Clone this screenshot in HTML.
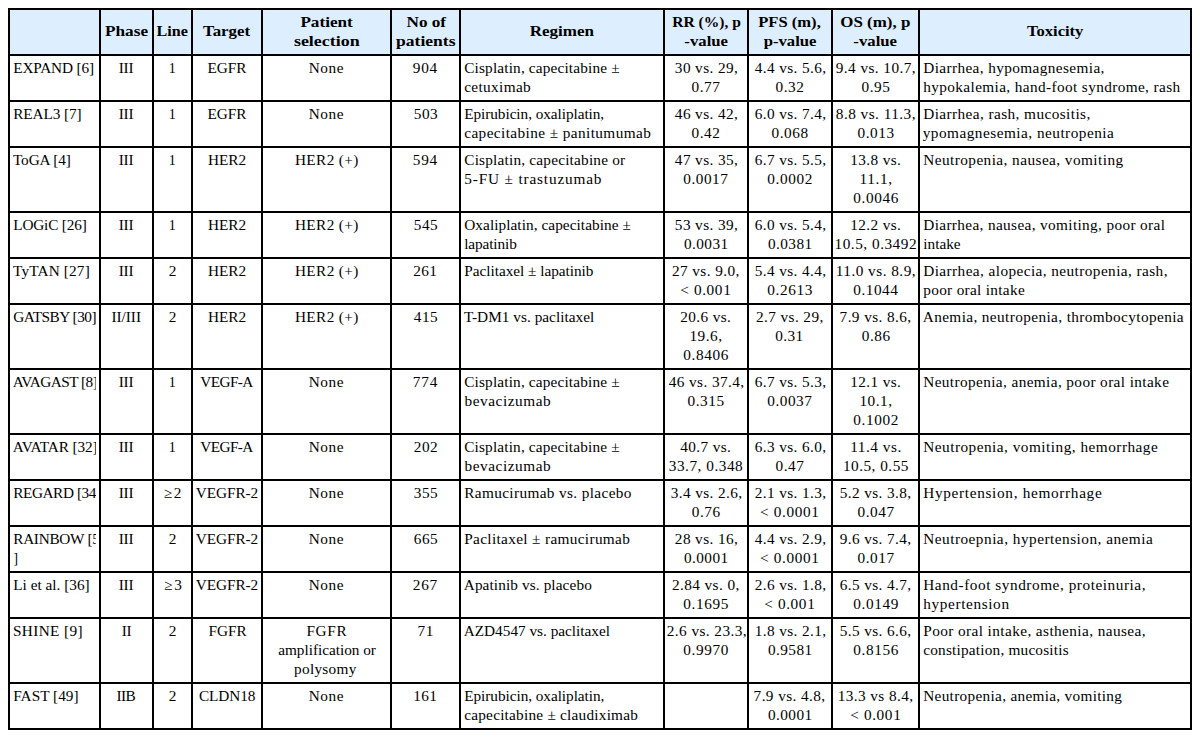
<!DOCTYPE html><html><head><meta charset="utf-8"><title>Table</title><style>html,body{margin:0;padding:0;background:#fff;width:1200px;height:738px;overflow:hidden}
.t{position:relative;width:1200px;height:738px;font-family:"Liberation Serif",serif;font-size:14.7px;line-height:19px;color:#000}
.ln{position:absolute;background:#000}
.c{position:absolute;box-sizing:border-box;padding:3px}
.w{white-space:nowrap;position:relative}
.clip{overflow:hidden}
.c.h{background:#ddeeff;font-weight:bold;text-align:center;display:flex;align-items:center}
.h>.w{width:100%}
.l{text-align:left} .ce{text-align:center}
.w span{display:inline-block;transform-origin:0 0}
</style></head><body><div class="t">
<div class="c h" style="left:10px;top:10px;width:89px;height:44px"><div class="w"></div></div>
<div class="c h" style="left:101px;top:10px;width:51px;height:44px"><div class="w" style="top:-1px"><div><span style="transform:translateX(-3.06px) scaleX(1.1736)">Phase</span></div></div></div>
<div class="c h" style="left:154px;top:10px;width:37px;height:44px"><div class="w" style="top:-1px"><div><span style="transform:translateX(-1.39px) scaleX(1.0982)">Line</span></div></div></div>
<div class="c h" style="left:193px;top:10px;width:68px;height:44px"><div class="w" style="top:-1px"><div><span style="transform:translateX(-3.04px) scaleX(1.1472)">Target</span></div></div></div>
<div class="c h" style="left:263px;top:10px;width:127px;height:44px"><div class="w"><div><span style="transform:translateX(-3.62px) scaleX(1.1685)">Patient</span></div><div><span style="transform:translateX(-6.08px) scaleX(1.2207)">selection</span></div></div></div>
<div class="c h" style="left:392px;top:10px;width:67px;height:44px"><div class="w"><div><span style="transform:translateX(-2.53px) scaleX(1.1704)">No of</span></div><div><span style="transform:translateX(-4.92px) scaleX(1.1929)">patients</span></div></div></div>
<div class="c h" style="left:461px;top:10px;width:202px;height:44px"><div class="w" style="top:-1px"><div><span style="transform:translateX(-4.34px) scaleX(1.1591)">Regimen</span></div></div></div>
<div class="c h" style="left:665px;top:10px;width:82px;height:44px"><div class="w"><div><span style="transform:translateX(-1.80px) scaleX(1.0586)">RR (%), p</span></div><div><span style="transform:translateX(-2.66px) scaleX(1.1400)">-value</span></div></div></div>
<div class="c h" style="left:749px;top:10px;width:82px;height:44px"><div class="w"><div><span style="transform:translateX(-3.80px) scaleX(1.1279)">PFS (m),</span></div><div><span style="transform:translateX(-3.34px) scaleX(1.1359)">p-value</span></div></div></div>
<div class="c h" style="left:833px;top:10px;width:85px;height:44px"><div class="w"><div><span style="transform:translateX(-4.68px) scaleX(1.1513)">OS (m), p</span></div><div><span style="transform:translateX(-2.66px) scaleX(1.1400)">-value</span></div></div></div>
<div class="c h" style="left:920px;top:10px;width:270px;height:44px"><div class="w" style="top:-1px"><div><span style="transform:translateX(-2.98px) scaleX(1.1256)">Toxicity</span></div></div></div>
<div class="c l" style="left:10px;top:56px;width:89px;height:44px"><div class="w clip" style="height:38px"><div><span style="letter-spacing:-0.144px;transform:translateX(0.23px) scaleX(1.0400)">EXPAND [6]</span></div></div></div>
<div class="c ce" style="left:101px;top:56px;width:51px;height:44px"><div class="w" style="height:38px"><div><span style="letter-spacing:-0.144px;transform:translateX(-0.35px) scaleX(1.0400)">III</span></div></div></div>
<div class="c ce" style="left:154px;top:56px;width:37px;height:44px"><div class="w" style="height:38px"><div><span style="transform:translateX(-0.16px) scaleX(0.9524)">1</span></div></div></div>
<div class="c ce" style="left:193px;top:56px;width:68px;height:44px"><div class="w" style="height:38px"><div><span style="letter-spacing:-0.074px;transform:translateX(-0.49px) scaleX(1.0400)">EGFR</span></div></div></div>
<div class="c ce" style="left:263px;top:56px;width:127px;height:44px"><div class="w" style="height:38px"><div><span style="letter-spacing:0.567px;transform:translateX(-0.36px) scaleX(1.0400)">None</span></div></div></div>
<div class="c ce" style="left:392px;top:56px;width:67px;height:44px"><div class="w" style="height:38px"><div><span style="letter-spacing:0.673px;transform:translateX(-0.16px) scaleX(1.0400)">904</span></div></div></div>
<div class="c l" style="left:461px;top:56px;width:202px;height:44px"><div class="w" style="height:38px"><div><span style="letter-spacing:0.159px;transform:translateX(0.23px) scaleX(1.0400)">Cisplatin, capecitabine ±</span></div><div><span style="letter-spacing:0.343px;transform:translateX(0.23px) scaleX(1.0400)">cetuximab</span></div></div></div>
<div class="c ce" style="left:665px;top:56px;width:82px;height:44px"><div class="w" style="height:38px"><div><span style="letter-spacing:0.377px;transform:translateX(-1.15px) scaleX(1.0400)">30 vs. 29,</span></div><div><span style="letter-spacing:0.484px;transform:translateX(-0.43px) scaleX(1.0400)">0.77</span></div></div></div>
<div class="c ce" style="left:749px;top:56px;width:82px;height:44px"><div class="w" style="height:38px"><div><span style="letter-spacing:0.369px;transform:translateX(-1.27px) scaleX(1.0400)">4.4 vs. 5.6,</span></div><div><span style="letter-spacing:0.487px;transform:translateX(-0.42px) scaleX(1.0400)">0.32</span></div></div></div>
<div class="c ce" style="left:833px;top:56px;width:85px;height:44px"><div class="w" style="height:38px"><div><span style="letter-spacing:0.416px;transform:translateX(-1.25px) scaleX(1.0400)">9.4 vs. 10.7,</span></div><div><span style="letter-spacing:0.484px;transform:translateX(-0.43px) scaleX(1.0400)">0.95</span></div></div></div>
<div class="c l" style="left:920px;top:56px;width:270px;height:44px"><div class="w" style="height:38px"><div><span style="letter-spacing:0.375px;transform:translateX(0.23px) scaleX(1.0400)">Diarrhea, hypomagnesemia,</span></div><div><span style="letter-spacing:0.369px;transform:translateX(0.24px) scaleX(1.0400)">hypokalemia, hand-foot syndrome, rash</span></div></div></div>
<div class="c l" style="left:10px;top:102px;width:89px;height:44px"><div class="w clip" style="height:38px"><div><span style="letter-spacing:-0.090px;transform:translateX(0.23px) scaleX(1.0400)">REAL3 [7]</span></div></div></div>
<div class="c ce" style="left:101px;top:102px;width:51px;height:44px"><div class="w" style="height:38px"><div><span style="letter-spacing:-0.144px;transform:translateX(-0.35px) scaleX(1.0400)">III</span></div></div></div>
<div class="c ce" style="left:154px;top:102px;width:37px;height:44px"><div class="w" style="height:38px"><div><span style="transform:translateX(-0.16px) scaleX(0.9524)">1</span></div></div></div>
<div class="c ce" style="left:193px;top:102px;width:68px;height:44px"><div class="w" style="height:38px"><div><span style="letter-spacing:-0.074px;transform:translateX(-0.49px) scaleX(1.0400)">EGFR</span></div></div></div>
<div class="c ce" style="left:263px;top:102px;width:127px;height:44px"><div class="w" style="height:38px"><div><span style="letter-spacing:0.567px;transform:translateX(-0.36px) scaleX(1.0400)">None</span></div></div></div>
<div class="c ce" style="left:392px;top:102px;width:67px;height:44px"><div class="w" style="height:38px"><div><span style="letter-spacing:0.562px;transform:translateX(-0.33px) scaleX(1.0400)">503</span></div></div></div>
<div class="c l" style="left:461px;top:102px;width:202px;height:44px"><div class="w" style="height:38px"><div><span style="letter-spacing:-0.056px;transform:translateX(0.23px) scaleX(1.0400)">Epirubicin, oxaliplatin,</span></div><div><span style="letter-spacing:0.393px;transform:translateX(0.23px) scaleX(1.0400)">capecitabine ± panitumumab</span></div></div></div>
<div class="c ce" style="left:665px;top:102px;width:82px;height:44px"><div class="w" style="height:38px"><div><span style="letter-spacing:0.375px;transform:translateX(-1.14px) scaleX(1.0400)">46 vs. 42,</span></div><div><span style="letter-spacing:0.487px;transform:translateX(-0.42px) scaleX(1.0400)">0.42</span></div></div></div>
<div class="c ce" style="left:749px;top:102px;width:82px;height:44px"><div class="w" style="height:38px"><div><span style="letter-spacing:0.371px;transform:translateX(-1.27px) scaleX(1.0400)">6.0 vs. 7.4,</span></div><div><span style="letter-spacing:0.534px;transform:translateX(-0.52px) scaleX(1.0400)">0.068</span></div></div></div>
<div class="c ce" style="left:833px;top:102px;width:85px;height:44px"><div class="w" style="height:38px"><div><span style="letter-spacing:0.438px;transform:translateX(-1.13px) scaleX(1.0400)">8.8 vs. 11.3,</span></div><div><span style="letter-spacing:0.534px;transform:translateX(-0.52px) scaleX(1.0400)">0.013</span></div></div></div>
<div class="c l" style="left:920px;top:102px;width:270px;height:44px"><div class="w" style="height:38px"><div><span style="letter-spacing:0.403px;transform:translateX(0.23px) scaleX(1.0400)">Diarrhea, rash, mucositis,</span></div><div><span style="letter-spacing:0.465px;transform:translateX(-0.26px) scaleX(1.0400)">ypomagnesemia, neutropenia</span></div></div></div>
<div class="c l" style="left:10px;top:148px;width:89px;height:63px"><div class="w clip" style="height:57px"><div><span style="letter-spacing:-0.125px;transform:translateX(-0.01px) scaleX(1.0400)">ToGA [4]</span></div></div></div>
<div class="c ce" style="left:101px;top:148px;width:51px;height:63px"><div class="w" style="height:57px"><div><span style="letter-spacing:-0.144px;transform:translateX(-0.35px) scaleX(1.0400)">III</span></div></div></div>
<div class="c ce" style="left:154px;top:148px;width:37px;height:63px"><div class="w" style="height:57px"><div><span style="transform:translateX(-0.16px) scaleX(0.9524)">1</span></div></div></div>
<div class="c ce" style="left:193px;top:148px;width:68px;height:63px"><div class="w" style="height:57px"><div><span style="letter-spacing:-0.054px;transform:translateX(-0.96px) scaleX(1.0400)">HER2</span></div></div></div>
<div class="c ce" style="left:263px;top:148px;width:127px;height:63px"><div class="w" style="height:57px"><div><span style="letter-spacing:0.372px;transform:translateX(-1.08px) scaleX(1.0400)">HER2 (+)</span></div></div></div>
<div class="c ce" style="left:392px;top:148px;width:67px;height:63px"><div class="w" style="height:57px"><div><span style="letter-spacing:0.678px;transform:translateX(-0.16px) scaleX(1.0400)">594</span></div></div></div>
<div class="c l" style="left:461px;top:148px;width:202px;height:63px"><div class="w" style="height:57px"><div><span style="letter-spacing:0.203px;transform:translateX(0.23px) scaleX(1.0400)">Cisplatin, capecitabine or</span></div><div><span style="letter-spacing:0.810px;transform:translateX(0.22px) scaleX(1.0400)">5-FU ± trastuzumab</span></div></div></div>
<div class="c ce" style="left:665px;top:148px;width:82px;height:63px"><div class="w" style="height:57px"><div><span style="letter-spacing:0.375px;transform:translateX(-1.14px) scaleX(1.0400)">47 vs. 35,</span></div><div><span style="letter-spacing:0.513px;transform:translateX(-0.78px) scaleX(1.0400)">0.0017</span></div></div></div>
<div class="c ce" style="left:749px;top:148px;width:82px;height:63px"><div class="w" style="height:57px"><div><span style="letter-spacing:0.371px;transform:translateX(-1.27px) scaleX(1.0400)">6.7 vs. 5.5,</span></div><div><span style="letter-spacing:0.565px;transform:translateX(-0.63px) scaleX(1.0400)">0.0002</span></div></div></div>
<div class="c ce" style="left:833px;top:148px;width:85px;height:63px"><div class="w" style="height:57px"><div><span style="letter-spacing:0.376px;transform:translateX(-0.86px) scaleX(1.0400)">13.8 vs.</span></div><div><span style="letter-spacing:0.584px;transform:translateX(-0.46px) scaleX(1.0400)">11.1,</span></div><div><span style="letter-spacing:0.562px;transform:translateX(-0.64px) scaleX(1.0400)">0.0046</span></div></div></div>
<div class="c l" style="left:920px;top:148px;width:270px;height:63px"><div class="w" style="height:57px"><div><span style="letter-spacing:0.425px;transform:translateX(0.23px) scaleX(1.0400)">Neutropenia, nausea, vomiting</span></div></div></div>
<div class="c l" style="left:10px;top:213px;width:89px;height:44px"><div class="w clip" style="height:38px"><div><span style="letter-spacing:-0.168px;transform:translateX(0.23px) scaleX(1.0400)">LOGiC [26]</span></div></div></div>
<div class="c ce" style="left:101px;top:213px;width:51px;height:44px"><div class="w" style="height:38px"><div><span style="letter-spacing:-0.144px;transform:translateX(-0.35px) scaleX(1.0400)">III</span></div></div></div>
<div class="c ce" style="left:154px;top:213px;width:37px;height:44px"><div class="w" style="height:38px"><div><span style="transform:translateX(-0.16px) scaleX(0.9524)">1</span></div></div></div>
<div class="c ce" style="left:193px;top:213px;width:68px;height:44px"><div class="w" style="height:38px"><div><span style="letter-spacing:-0.054px;transform:translateX(-0.96px) scaleX(1.0400)">HER2</span></div></div></div>
<div class="c ce" style="left:263px;top:213px;width:127px;height:44px"><div class="w" style="height:38px"><div><span style="letter-spacing:0.372px;transform:translateX(-1.08px) scaleX(1.0400)">HER2 (+)</span></div></div></div>
<div class="c ce" style="left:392px;top:213px;width:67px;height:44px"><div class="w" style="height:38px"><div><span style="letter-spacing:0.562px;transform:translateX(-0.33px) scaleX(1.0400)">545</span></div></div></div>
<div class="c l" style="left:461px;top:213px;width:202px;height:44px"><div class="w" style="height:38px"><div><span style="letter-spacing:0.065px;transform:translateX(0.23px) scaleX(1.0400)">Oxaliplatin, capecitabine ±</span></div><div><span style="letter-spacing:-0.111px;transform:translateX(0.24px) scaleX(1.0400)">lapatinib</span></div></div></div>
<div class="c ce" style="left:665px;top:213px;width:82px;height:44px"><div class="w" style="height:38px"><div><span style="letter-spacing:0.377px;transform:translateX(-1.15px) scaleX(1.0400)">53 vs. 39,</span></div><div><span style="letter-spacing:0.421px;transform:translateX(-1.06px) scaleX(1.0400)">0.0031</span></div></div></div>
<div class="c ce" style="left:749px;top:213px;width:82px;height:44px"><div class="w" style="height:38px"><div><span style="letter-spacing:0.371px;transform:translateX(-1.27px) scaleX(1.0400)">6.0 vs. 5.4,</span></div><div><span style="letter-spacing:0.421px;transform:translateX(-1.06px) scaleX(1.0400)">0.0381</span></div></div></div>
<div class="c ce" style="left:833px;top:213px;width:85px;height:44px"><div class="w" style="height:38px"><div><span style="letter-spacing:0.376px;transform:translateX(-0.86px) scaleX(1.0400)">12.2 vs.</span></div><div><span style="letter-spacing:0.493px;transform:translateX(-1.47px) scaleX(1.0400)">10.5, 0.3492</span></div></div></div>
<div class="c l" style="left:920px;top:213px;width:270px;height:44px"><div class="w" style="height:38px"><div><span style="letter-spacing:0.350px;transform:translateX(0.23px) scaleX(1.0400)">Diarrhea, nausea, vomiting, poor oral</span></div><div><span style="letter-spacing:0.008px;transform:translateX(0.24px) scaleX(1.0400)">intake</span></div></div></div>
<div class="c l" style="left:10px;top:259px;width:89px;height:44px"><div class="w clip" style="height:38px"><div><span style="letter-spacing:0.151px;transform:translateX(-0.01px) scaleX(1.0400)">TyTAN [27]</span></div></div></div>
<div class="c ce" style="left:101px;top:259px;width:51px;height:44px"><div class="w" style="height:38px"><div><span style="letter-spacing:-0.144px;transform:translateX(-0.35px) scaleX(1.0400)">III</span></div></div></div>
<div class="c ce" style="left:154px;top:259px;width:37px;height:44px"><div class="w" style="height:38px"><div><span style="transform:translateX(-0.25px) scaleX(1.0435)">2</span></div></div></div>
<div class="c ce" style="left:193px;top:259px;width:68px;height:44px"><div class="w" style="height:38px"><div><span style="letter-spacing:-0.054px;transform:translateX(-0.96px) scaleX(1.0400)">HER2</span></div></div></div>
<div class="c ce" style="left:263px;top:259px;width:127px;height:44px"><div class="w" style="height:38px"><div><span style="letter-spacing:0.372px;transform:translateX(-1.08px) scaleX(1.0400)">HER2 (+)</span></div></div></div>
<div class="c ce" style="left:392px;top:259px;width:67px;height:44px"><div class="w" style="height:38px"><div><span style="letter-spacing:0.327px;transform:translateX(-0.69px) scaleX(1.0400)">261</span></div></div></div>
<div class="c l" style="left:461px;top:259px;width:202px;height:44px"><div class="w" style="height:38px"><div><span style="letter-spacing:-0.021px;transform:translateX(0.23px) scaleX(1.0400)">Paclitaxel ± lapatinib</span></div></div></div>
<div class="c ce" style="left:665px;top:259px;width:82px;height:44px"><div class="w" style="height:38px"><div><span style="letter-spacing:0.398px;transform:translateX(-1.07px) scaleX(1.0400)">27 vs. 9.0,</span></div><div><span style="letter-spacing:0.603px;transform:translateX(-0.79px) scaleX(1.0400)">&lt; 0.001</span></div></div></div>
<div class="c ce" style="left:749px;top:259px;width:82px;height:44px"><div class="w" style="height:38px"><div><span style="letter-spacing:0.371px;transform:translateX(-1.27px) scaleX(1.0400)">5.4 vs. 4.4,</span></div><div><span style="letter-spacing:0.563px;transform:translateX(-0.63px) scaleX(1.0400)">0.2613</span></div></div></div>
<div class="c ce" style="left:833px;top:259px;width:85px;height:44px"><div class="w" style="height:38px"><div><span style="letter-spacing:0.460px;transform:translateX(-1.26px) scaleX(1.0400)">11.0 vs. 8.9,</span></div><div><span style="letter-spacing:0.512px;transform:translateX(-0.79px) scaleX(1.0400)">0.1044</span></div></div></div>
<div class="c l" style="left:920px;top:259px;width:270px;height:44px"><div class="w" style="height:38px"><div><span style="letter-spacing:0.407px;transform:translateX(0.23px) scaleX(1.0400)">Diarrhea, alopecia, neutropenia, rash,</span></div><div><span style="letter-spacing:0.305px;transform:translateX(0.24px) scaleX(1.0400)">poor oral intake</span></div></div></div>
<div class="c l" style="left:10px;top:305px;width:89px;height:63px"><div class="w clip" style="height:57px"><div><span style="letter-spacing:-0.459px;transform:translateX(0.23px) scaleX(1.0400)">GATSBY [30]</span></div></div></div>
<div class="c ce" style="left:101px;top:305px;width:51px;height:63px"><div class="w" style="height:57px"><div><span style="letter-spacing:-0.019px;transform:translateX(-0.59px) scaleX(1.0400)">II/III</span></div></div></div>
<div class="c ce" style="left:154px;top:305px;width:37px;height:63px"><div class="w" style="height:57px"><div><span style="transform:translateX(-0.25px) scaleX(1.0435)">2</span></div></div></div>
<div class="c ce" style="left:193px;top:305px;width:68px;height:63px"><div class="w" style="height:57px"><div><span style="letter-spacing:-0.054px;transform:translateX(-0.96px) scaleX(1.0400)">HER2</span></div></div></div>
<div class="c ce" style="left:263px;top:305px;width:127px;height:63px"><div class="w" style="height:57px"><div><span style="letter-spacing:0.372px;transform:translateX(-1.08px) scaleX(1.0400)">HER2 (+)</span></div></div></div>
<div class="c ce" style="left:392px;top:305px;width:67px;height:63px"><div class="w" style="height:57px"><div><span style="letter-spacing:0.553px;transform:translateX(-0.33px) scaleX(1.0400)">415</span></div></div></div>
<div class="c l" style="left:461px;top:305px;width:202px;height:63px"><div class="w" style="height:57px"><div><span style="letter-spacing:0.032px;transform:translateX(-0.01px) scaleX(1.0400)">T-DM1 vs. paclitaxel</span></div></div></div>
<div class="c ce" style="left:665px;top:305px;width:82px;height:63px"><div class="w" style="height:57px"><div><span style="letter-spacing:0.374px;transform:translateX(-0.85px) scaleX(1.0400)">20.6 vs.</span></div><div><span style="letter-spacing:0.459px;transform:translateX(-0.50px) scaleX(1.0400)">19.6,</span></div><div><span style="letter-spacing:0.562px;transform:translateX(-0.64px) scaleX(1.0400)">0.8406</span></div></div></div>
<div class="c ce" style="left:749px;top:305px;width:82px;height:63px"><div class="w" style="height:57px"><div><span style="letter-spacing:0.398px;transform:translateX(-1.07px) scaleX(1.0400)">2.7 vs. 29,</span></div><div><span style="letter-spacing:0.330px;transform:translateX(-0.73px) scaleX(1.0400)">0.31</span></div></div></div>
<div class="c ce" style="left:833px;top:305px;width:85px;height:63px"><div class="w" style="height:57px"><div><span style="letter-spacing:0.393px;transform:translateX(-1.40px) scaleX(1.0400)">7.9 vs. 8.6,</span></div><div><span style="letter-spacing:0.564px;transform:translateX(-0.27px) scaleX(1.0400)">0.86</span></div></div></div>
<div class="c l" style="left:920px;top:305px;width:270px;height:63px"><div class="w" style="height:57px"><div><span style="letter-spacing:0.374px;transform:translateX(-0.26px) scaleX(1.0400)">Anemia, neutropenia, thrombocytopenia</span></div></div></div>
<div class="c l" style="left:10px;top:370px;width:89px;height:63px"><div class="w clip" style="height:57px"><div><span style="letter-spacing:-0.521px;transform:translateX(-0.26px) scaleX(1.0400)">AVAGAST [8]</span></div></div></div>
<div class="c ce" style="left:101px;top:370px;width:51px;height:63px"><div class="w" style="height:57px"><div><span style="letter-spacing:-0.144px;transform:translateX(-0.35px) scaleX(1.0400)">III</span></div></div></div>
<div class="c ce" style="left:154px;top:370px;width:37px;height:63px"><div class="w" style="height:57px"><div><span style="transform:translateX(-0.16px) scaleX(0.9524)">1</span></div></div></div>
<div class="c ce" style="left:193px;top:370px;width:68px;height:63px"><div class="w" style="height:57px"><div><span style="letter-spacing:-0.546px;transform:translateX(-1.77px) scaleX(1.0400)">VEGF-A</span></div></div></div>
<div class="c ce" style="left:263px;top:370px;width:127px;height:63px"><div class="w" style="height:57px"><div><span style="letter-spacing:0.567px;transform:translateX(-0.36px) scaleX(1.0400)">None</span></div></div></div>
<div class="c ce" style="left:392px;top:370px;width:67px;height:63px"><div class="w" style="height:57px"><div><span style="letter-spacing:0.803px;transform:translateX(-0.23px) scaleX(1.0400)">774</span></div></div></div>
<div class="c l" style="left:461px;top:370px;width:202px;height:63px"><div class="w" style="height:57px"><div><span style="letter-spacing:0.159px;transform:translateX(0.23px) scaleX(1.0400)">Cisplatin, capecitabine ±</span></div><div><span style="letter-spacing:0.531px;transform:translateX(0.50px) scaleX(1.0400)">bevacizumab</span></div></div></div>
<div class="c ce" style="left:665px;top:370px;width:82px;height:63px"><div class="w" style="height:57px"><div><span style="letter-spacing:0.399px;transform:translateX(-1.32px) scaleX(1.0400)">46 vs. 37.4,</span></div><div><span style="letter-spacing:0.534px;transform:translateX(-0.52px) scaleX(1.0400)">0.315</span></div></div></div>
<div class="c ce" style="left:749px;top:370px;width:82px;height:63px"><div class="w" style="height:57px"><div><span style="letter-spacing:0.371px;transform:translateX(-1.27px) scaleX(1.0400)">6.7 vs. 5.3,</span></div><div><span style="letter-spacing:0.513px;transform:translateX(-0.78px) scaleX(1.0400)">0.0037</span></div></div></div>
<div class="c ce" style="left:833px;top:370px;width:85px;height:63px"><div class="w" style="height:57px"><div><span style="letter-spacing:0.376px;transform:translateX(-0.86px) scaleX(1.0400)">12.1 vs.</span></div><div><span style="letter-spacing:0.459px;transform:translateX(-0.50px) scaleX(1.0400)">10.1,</span></div><div><span style="letter-spacing:0.565px;transform:translateX(-0.63px) scaleX(1.0400)">0.1002</span></div></div></div>
<div class="c l" style="left:920px;top:370px;width:270px;height:63px"><div class="w" style="height:57px"><div><span style="letter-spacing:0.377px;transform:translateX(0.23px) scaleX(1.0400)">Neutropenia, anemia, poor oral intake</span></div></div></div>
<div class="c l" style="left:10px;top:435px;width:89px;height:44px"><div class="w clip" style="height:38px"><div><span style="letter-spacing:-0.121px;transform:translateX(-0.26px) scaleX(1.0400)">AVATAR [32]</span></div></div></div>
<div class="c ce" style="left:101px;top:435px;width:51px;height:44px"><div class="w" style="height:38px"><div><span style="letter-spacing:-0.144px;transform:translateX(-0.35px) scaleX(1.0400)">III</span></div></div></div>
<div class="c ce" style="left:154px;top:435px;width:37px;height:44px"><div class="w" style="height:38px"><div><span style="transform:translateX(-0.16px) scaleX(0.9524)">1</span></div></div></div>
<div class="c ce" style="left:193px;top:435px;width:68px;height:44px"><div class="w" style="height:38px"><div><span style="letter-spacing:-0.546px;transform:translateX(-1.77px) scaleX(1.0400)">VEGF-A</span></div></div></div>
<div class="c ce" style="left:263px;top:435px;width:127px;height:44px"><div class="w" style="height:38px"><div><span style="letter-spacing:0.567px;transform:translateX(-0.36px) scaleX(1.0400)">None</span></div></div></div>
<div class="c ce" style="left:392px;top:435px;width:67px;height:44px"><div class="w" style="height:38px"><div><span style="letter-spacing:0.567px;transform:translateX(-0.33px) scaleX(1.0400)">202</span></div></div></div>
<div class="c l" style="left:461px;top:435px;width:202px;height:44px"><div class="w" style="height:38px"><div><span style="letter-spacing:0.159px;transform:translateX(0.23px) scaleX(1.0400)">Cisplatin, capecitabine ±</span></div><div><span style="letter-spacing:0.531px;transform:translateX(0.50px) scaleX(1.0400)">bevacizumab</span></div></div></div>
<div class="c ce" style="left:665px;top:435px;width:82px;height:44px"><div class="w" style="height:38px"><div><span style="letter-spacing:0.371px;transform:translateX(-0.84px) scaleX(1.0400)">40.7 vs.</span></div><div><span style="letter-spacing:0.496px;transform:translateX(-1.22px) scaleX(1.0400)">33.7, 0.348</span></div></div></div>
<div class="c ce" style="left:749px;top:435px;width:82px;height:44px"><div class="w" style="height:38px"><div><span style="letter-spacing:0.371px;transform:translateX(-1.27px) scaleX(1.0400)">6.3 vs. 6.0,</span></div><div><span style="letter-spacing:0.484px;transform:translateX(-0.43px) scaleX(1.0400)">0.47</span></div></div></div>
<div class="c ce" style="left:833px;top:435px;width:85px;height:44px"><div class="w" style="height:38px"><div><span style="letter-spacing:0.484px;transform:translateX(-0.70px) scaleX(1.0400)">11.4 vs.</span></div><div><span style="letter-spacing:0.478px;transform:translateX(-1.12px) scaleX(1.0400)">10.5, 0.55</span></div></div></div>
<div class="c l" style="left:920px;top:435px;width:270px;height:44px"><div class="w" style="height:38px"><div><span style="letter-spacing:0.471px;transform:translateX(0.23px) scaleX(1.0400)">Neutropenia, vomiting, hemorrhage</span></div></div></div>
<div class="c l" style="left:10px;top:481px;width:89px;height:44px"><div class="w clip" style="height:38px"><div><span style="letter-spacing:-0.407px;transform:translateX(0.23px) scaleX(1.0400)">REGARD [34]</span></div></div></div>
<div class="c ce" style="left:101px;top:481px;width:51px;height:44px"><div class="w" style="height:38px"><div><span style="letter-spacing:-0.144px;transform:translateX(-0.35px) scaleX(1.0400)">III</span></div></div></div>
<div class="c ce" style="left:154px;top:481px;width:37px;height:44px"><div class="w" style="height:38px"><div><span style="letter-spacing:1.625px;transform:translateX(0.72px) scaleX(1.0400)">≥2</span></div></div></div>
<div class="c ce" style="left:193px;top:481px;width:68px;height:44px"><div class="w" style="height:38px"><div><span style="letter-spacing:-0.067px;transform:translateX(-1.20px) scaleX(1.0400)">VEGFR-2</span></div></div></div>
<div class="c ce" style="left:263px;top:481px;width:127px;height:44px"><div class="w" style="height:38px"><div><span style="letter-spacing:0.567px;transform:translateX(-0.36px) scaleX(1.0400)">None</span></div></div></div>
<div class="c ce" style="left:392px;top:481px;width:67px;height:44px"><div class="w" style="height:38px"><div><span style="letter-spacing:0.562px;transform:translateX(-0.33px) scaleX(1.0400)">355</span></div></div></div>
<div class="c l" style="left:461px;top:481px;width:202px;height:44px"><div class="w" style="height:38px"><div><span style="letter-spacing:0.357px;transform:translateX(0.23px) scaleX(1.0400)">Ramucirumab vs. placebo</span></div></div></div>
<div class="c ce" style="left:665px;top:481px;width:82px;height:44px"><div class="w" style="height:38px"><div><span style="letter-spacing:0.371px;transform:translateX(-1.27px) scaleX(1.0400)">3.4 vs. 2.6,</span></div><div><span style="letter-spacing:0.564px;transform:translateX(-0.27px) scaleX(1.0400)">0.76</span></div></div></div>
<div class="c ce" style="left:749px;top:481px;width:82px;height:44px"><div class="w" style="height:38px"><div><span style="letter-spacing:0.371px;transform:translateX(-1.27px) scaleX(1.0400)">2.1 vs. 1.3,</span></div><div><span style="letter-spacing:0.614px;transform:translateX(-0.90px) scaleX(1.0400)">&lt; 0.0001</span></div></div></div>
<div class="c ce" style="left:833px;top:481px;width:85px;height:44px"><div class="w" style="height:38px"><div><span style="letter-spacing:0.371px;transform:translateX(-1.27px) scaleX(1.0400)">5.2 vs. 3.8,</span></div><div><span style="letter-spacing:0.534px;transform:translateX(-0.52px) scaleX(1.0400)">0.047</span></div></div></div>
<div class="c l" style="left:920px;top:481px;width:270px;height:44px"><div class="w" style="height:38px"><div><span style="letter-spacing:0.651px;transform:translateX(0.23px) scaleX(1.0400)">Hypertension, hemorrhage</span></div></div></div>
<div class="c l" style="left:10px;top:527px;width:89px;height:44px"><div class="w clip" style="height:38px"><div><span style="letter-spacing:-0.277px;transform:translateX(0.23px) scaleX(1.0400)">RAINBOW [5</span></div><div><span style="transform:translateX(0.54px) scaleX(0.9231)">]</span></div></div></div>
<div class="c ce" style="left:101px;top:527px;width:51px;height:44px"><div class="w" style="height:38px"><div><span style="letter-spacing:-0.144px;transform:translateX(-0.35px) scaleX(1.0400)">III</span></div></div></div>
<div class="c ce" style="left:154px;top:527px;width:37px;height:44px"><div class="w" style="height:38px"><div><span style="transform:translateX(-0.25px) scaleX(1.0435)">2</span></div></div></div>
<div class="c ce" style="left:193px;top:527px;width:68px;height:44px"><div class="w" style="height:38px"><div><span style="letter-spacing:-0.067px;transform:translateX(-1.20px) scaleX(1.0400)">VEGFR-2</span></div></div></div>
<div class="c ce" style="left:263px;top:527px;width:127px;height:44px"><div class="w" style="height:38px"><div><span style="letter-spacing:0.567px;transform:translateX(-0.36px) scaleX(1.0400)">None</span></div></div></div>
<div class="c ce" style="left:392px;top:527px;width:67px;height:44px"><div class="w" style="height:38px"><div><span style="letter-spacing:0.562px;transform:translateX(-0.33px) scaleX(1.0400)">665</span></div></div></div>
<div class="c l" style="left:461px;top:527px;width:202px;height:44px"><div class="w" style="height:38px"><div><span style="letter-spacing:0.332px;transform:translateX(0.23px) scaleX(1.0400)">Paclitaxel ± ramucirumab</span></div></div></div>
<div class="c ce" style="left:665px;top:527px;width:82px;height:44px"><div class="w" style="height:38px"><div><span style="letter-spacing:0.377px;transform:translateX(-1.15px) scaleX(1.0400)">28 vs. 16,</span></div><div><span style="letter-spacing:0.421px;transform:translateX(-1.06px) scaleX(1.0400)">0.0001</span></div></div></div>
<div class="c ce" style="left:749px;top:527px;width:82px;height:44px"><div class="w" style="height:38px"><div><span style="letter-spacing:0.369px;transform:translateX(-1.27px) scaleX(1.0400)">4.4 vs. 2.9,</span></div><div><span style="letter-spacing:0.614px;transform:translateX(-0.90px) scaleX(1.0400)">&lt; 0.0001</span></div></div></div>
<div class="c ce" style="left:833px;top:527px;width:85px;height:44px"><div class="w" style="height:38px"><div><span style="letter-spacing:0.370px;transform:translateX(-1.27px) scaleX(1.0400)">9.6 vs. 7.4,</span></div><div><span style="letter-spacing:0.534px;transform:translateX(-0.52px) scaleX(1.0400)">0.017</span></div></div></div>
<div class="c l" style="left:920px;top:527px;width:270px;height:44px"><div class="w" style="height:38px"><div><span style="letter-spacing:0.473px;transform:translateX(0.23px) scaleX(1.0400)">Neutroepnia, hypertension, anemia</span></div></div></div>
<div class="c l" style="left:10px;top:573px;width:89px;height:44px"><div class="w clip" style="height:38px"><div><span style="letter-spacing:0.010px;transform:translateX(0.23px) scaleX(1.0400)">Li et al. [36]</span></div></div></div>
<div class="c ce" style="left:101px;top:573px;width:51px;height:44px"><div class="w" style="height:38px"><div><span style="letter-spacing:-0.144px;transform:translateX(-0.35px) scaleX(1.0400)">III</span></div></div></div>
<div class="c ce" style="left:154px;top:573px;width:37px;height:44px"><div class="w" style="height:38px"><div><span style="letter-spacing:1.856px;transform:translateX(0.95px) scaleX(1.0400)">≥3</span></div></div></div>
<div class="c ce" style="left:193px;top:573px;width:68px;height:44px"><div class="w" style="height:38px"><div><span style="letter-spacing:-0.067px;transform:translateX(-1.20px) scaleX(1.0400)">VEGFR-2</span></div></div></div>
<div class="c ce" style="left:263px;top:573px;width:127px;height:44px"><div class="w" style="height:38px"><div><span style="letter-spacing:0.567px;transform:translateX(-0.36px) scaleX(1.0400)">None</span></div></div></div>
<div class="c ce" style="left:392px;top:573px;width:67px;height:44px"><div class="w" style="height:38px"><div><span style="letter-spacing:0.683px;transform:translateX(-0.15px) scaleX(1.0400)">267</span></div></div></div>
<div class="c l" style="left:461px;top:573px;width:202px;height:44px"><div class="w" style="height:38px"><div><span style="letter-spacing:0.103px;transform:translateX(-0.26px) scaleX(1.0400)">Apatinib vs. placebo</span></div></div></div>
<div class="c ce" style="left:665px;top:573px;width:82px;height:44px"><div class="w" style="height:38px"><div><span style="letter-spacing:0.398px;transform:translateX(-1.07px) scaleX(1.0400)">2.84 vs. 0,</span></div><div><span style="letter-spacing:0.563px;transform:translateX(-0.63px) scaleX(1.0400)">0.1695</span></div></div></div>
<div class="c ce" style="left:749px;top:573px;width:82px;height:44px"><div class="w" style="height:38px"><div><span style="letter-spacing:0.371px;transform:translateX(-1.27px) scaleX(1.0400)">2.6 vs. 1.8,</span></div><div><span style="letter-spacing:0.603px;transform:translateX(-0.79px) scaleX(1.0400)">&lt; 0.001</span></div></div></div>
<div class="c ce" style="left:833px;top:573px;width:85px;height:44px"><div class="w" style="height:38px"><div><span style="letter-spacing:0.371px;transform:translateX(-1.27px) scaleX(1.0400)">6.5 vs. 4.7,</span></div><div><span style="letter-spacing:0.563px;transform:translateX(-0.63px) scaleX(1.0400)">0.0149</span></div></div></div>
<div class="c l" style="left:920px;top:573px;width:270px;height:44px"><div class="w" style="height:38px"><div><span style="letter-spacing:0.525px;transform:translateX(0.23px) scaleX(1.0400)">Hand-foot syndrome, proteinuria,</span></div><div><span style="letter-spacing:0.601px;transform:translateX(0.24px) scaleX(1.0400)">hypertension</span></div></div></div>
<div class="c l" style="left:10px;top:619px;width:89px;height:63px"><div class="w clip" style="height:57px"><div><span style="letter-spacing:0.351px;transform:translateX(-0.04px) scaleX(1.0400)">SHINE [9]</span></div></div></div>
<div class="c ce" style="left:101px;top:619px;width:51px;height:63px"><div class="w" style="height:57px"><div><span style="letter-spacing:-0.337px;transform:translateX(-0.35px) scaleX(1.0400)">II</span></div></div></div>
<div class="c ce" style="left:154px;top:619px;width:37px;height:63px"><div class="w" style="height:57px"><div><span style="transform:translateX(-0.25px) scaleX(1.0435)">2</span></div></div></div>
<div class="c ce" style="left:193px;top:619px;width:68px;height:63px"><div class="w" style="height:57px"><div><span style="letter-spacing:0.016px;transform:translateX(-0.47px) scaleX(1.0400)">FGFR</span></div></div></div>
<div class="c ce" style="left:263px;top:619px;width:127px;height:63px"><div class="w" style="height:57px"><div><span style="letter-spacing:0.673px;transform:translateX(-0.60px) scaleX(1.0400)">FGFR</span></div><div><span style="letter-spacing:-0.022px;transform:translateX(-1.78px) scaleX(1.0400)">amplification or</span></div><div><span style="letter-spacing:0.266px;transform:translateX(-1.92px) scaleX(1.0400)">polysomy</span></div></div></div>
<div class="c ce" style="left:392px;top:619px;width:67px;height:63px"><div class="w" style="height:57px"><div><span style="letter-spacing:0.471px;transform:translateX(-0.50px) scaleX(1.0400)">71</span></div></div></div>
<div class="c l" style="left:461px;top:619px;width:202px;height:63px"><div class="w" style="height:57px"><div><span style="letter-spacing:-0.003px;transform:translateX(-0.26px) scaleX(1.0400)">AZD4547 vs. paclitaxel</span></div></div></div>
<div class="c ce" style="left:665px;top:619px;width:82px;height:63px"><div class="w" style="height:57px"><div><span style="letter-spacing:0.417px;transform:translateX(-1.25px) scaleX(1.0400)">2.6 vs. 23.3,</span></div><div><span style="letter-spacing:0.563px;transform:translateX(-0.63px) scaleX(1.0400)">0.9970</span></div></div></div>
<div class="c ce" style="left:749px;top:619px;width:82px;height:63px"><div class="w" style="height:57px"><div><span style="letter-spacing:0.372px;transform:translateX(-1.28px) scaleX(1.0400)">1.8 vs. 2.1,</span></div><div><span style="letter-spacing:0.421px;transform:translateX(-1.06px) scaleX(1.0400)">0.9581</span></div></div></div>
<div class="c ce" style="left:833px;top:619px;width:85px;height:63px"><div class="w" style="height:57px"><div><span style="letter-spacing:0.371px;transform:translateX(-1.27px) scaleX(1.0400)">5.5 vs. 6.6,</span></div><div><span style="letter-spacing:0.562px;transform:translateX(-0.64px) scaleX(1.0400)">0.8156</span></div></div></div>
<div class="c l" style="left:920px;top:619px;width:270px;height:63px"><div class="w" style="height:57px"><div><span style="letter-spacing:0.397px;transform:translateX(0.23px) scaleX(1.0400)">Poor oral intake, asthenia, nausea,</span></div><div><span style="letter-spacing:0.200px;transform:translateX(0.23px) scaleX(1.0400)">constipation, mucositis</span></div></div></div>
<div class="c l" style="left:10px;top:684px;width:89px;height:44px"><div class="w clip" style="height:38px"><div><span style="letter-spacing:0.013px;transform:translateX(0.23px) scaleX(1.0400)">FAST [49]</span></div></div></div>
<div class="c ce" style="left:101px;top:684px;width:51px;height:44px"><div class="w" style="height:38px"><div><span style="letter-spacing:-0.476px;transform:translateX(-0.60px) scaleX(1.0400)">IIB</span></div></div></div>
<div class="c ce" style="left:154px;top:684px;width:37px;height:44px"><div class="w" style="height:38px"><div><span style="transform:translateX(-0.25px) scaleX(1.0435)">2</span></div></div></div>
<div class="c ce" style="left:193px;top:684px;width:68px;height:44px"><div class="w" style="height:38px"><div><span style="letter-spacing:-0.075px;transform:translateX(-1.12px) scaleX(1.0400)">CLDN18</span></div></div></div>
<div class="c ce" style="left:263px;top:684px;width:127px;height:44px"><div class="w" style="height:38px"><div><span style="letter-spacing:0.567px;transform:translateX(-0.36px) scaleX(1.0400)">None</span></div></div></div>
<div class="c ce" style="left:392px;top:684px;width:67px;height:44px"><div class="w" style="height:38px"><div><span style="letter-spacing:0.337px;transform:translateX(-0.69px) scaleX(1.0400)">161</span></div></div></div>
<div class="c l" style="left:461px;top:684px;width:202px;height:44px"><div class="w" style="height:38px"><div><span style="letter-spacing:-0.047px;transform:translateX(0.23px) scaleX(1.0400)">Epirubicin, oxaliplatin,</span></div><div><span style="letter-spacing:0.223px;transform:translateX(0.23px) scaleX(1.0400)">capecitabine ± claudiximab</span></div></div></div>
<div class="c ce" style="left:665px;top:684px;width:82px;height:44px"><div class="w" style="height:38px"></div></div>
<div class="c ce" style="left:749px;top:684px;width:82px;height:44px"><div class="w" style="height:38px"><div><span style="letter-spacing:0.393px;transform:translateX(-1.40px) scaleX(1.0400)">7.9 vs. 4.8,</span></div><div><span style="letter-spacing:0.421px;transform:translateX(-1.06px) scaleX(1.0400)">0.0001</span></div></div></div>
<div class="c ce" style="left:833px;top:684px;width:85px;height:44px"><div class="w" style="height:38px"><div><span style="letter-spacing:0.403px;transform:translateX(-1.34px) scaleX(1.0400)">13.3 vs 8.4,</span></div><div><span style="letter-spacing:0.603px;transform:translateX(-0.79px) scaleX(1.0400)">&lt; 0.001</span></div></div></div>
<div class="c l" style="left:920px;top:684px;width:270px;height:44px"><div class="w" style="height:38px"><div><span style="letter-spacing:0.298px;transform:translateX(0.23px) scaleX(1.0400)">Neutropenia, anemia, vomiting</span></div></div></div>
<div class="ln" style="left:8px;top:8px;width:2px;height:722px"></div>
<div class="ln" style="left:99px;top:8px;width:2px;height:722px"></div>
<div class="ln" style="left:152px;top:8px;width:2px;height:722px"></div>
<div class="ln" style="left:191px;top:8px;width:2px;height:722px"></div>
<div class="ln" style="left:261px;top:8px;width:2px;height:722px"></div>
<div class="ln" style="left:390px;top:8px;width:2px;height:722px"></div>
<div class="ln" style="left:459px;top:8px;width:2px;height:722px"></div>
<div class="ln" style="left:663px;top:8px;width:2px;height:722px"></div>
<div class="ln" style="left:747px;top:8px;width:2px;height:722px"></div>
<div class="ln" style="left:831px;top:8px;width:2px;height:722px"></div>
<div class="ln" style="left:918px;top:8px;width:2px;height:722px"></div>
<div class="ln" style="left:1190px;top:8px;width:2px;height:722px"></div>
<div class="ln" style="left:8px;top:8px;width:1184px;height:2px"></div>
<div class="ln" style="left:8px;top:54px;width:1184px;height:2px"></div>
<div class="ln" style="left:8px;top:100px;width:1184px;height:2px"></div>
<div class="ln" style="left:8px;top:146px;width:1184px;height:2px"></div>
<div class="ln" style="left:8px;top:211px;width:1184px;height:2px"></div>
<div class="ln" style="left:8px;top:257px;width:1184px;height:2px"></div>
<div class="ln" style="left:8px;top:303px;width:1184px;height:2px"></div>
<div class="ln" style="left:8px;top:368px;width:1184px;height:2px"></div>
<div class="ln" style="left:8px;top:433px;width:1184px;height:2px"></div>
<div class="ln" style="left:8px;top:479px;width:1184px;height:2px"></div>
<div class="ln" style="left:8px;top:525px;width:1184px;height:2px"></div>
<div class="ln" style="left:8px;top:571px;width:1184px;height:2px"></div>
<div class="ln" style="left:8px;top:617px;width:1184px;height:2px"></div>
<div class="ln" style="left:8px;top:682px;width:1184px;height:2px"></div>
<div class="ln" style="left:8px;top:728px;width:1184px;height:2px"></div>
</div></body></html>
